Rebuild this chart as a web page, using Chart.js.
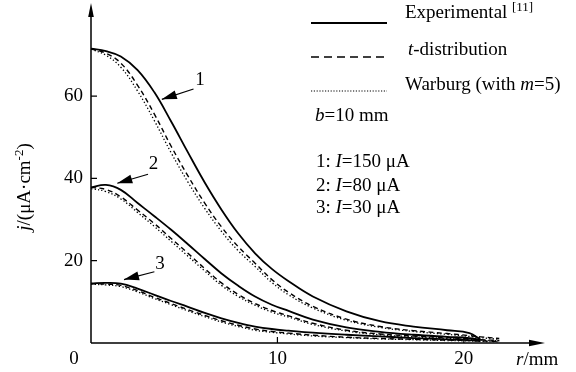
<!DOCTYPE html>
<html>
<head>
<meta charset="utf-8">
<script src="https://cdn.jsdelivr.net/npm/chart.js@4/dist/chart.umd.min.js"></script>
<style>
body{margin:0;background:#fff}
#wrap{width:576px;height:372px}
</style>
</head>
<body>
<div id="wrap"><canvas id="c"></canvas></div>
<script>
// r in mm, j in uA/cm2
const r=[0,0.8,1.6,2.5,3.4,4.3,5.2,6.1,7.0,7.9,8.8,9.7,10.6,11.9,13.7,15.5,17.3,19.1,20.3,20.9,21.9]

const j1Exp=[71.5,70.9,69.6,66.3,60.9,53.8,46.3,39.0,32.4,26.6,21.8,18.0,15.0,11.3,7.7,5.3,4.0,3.1,2.4,0.8,null]
const j1T=[71.5,70.4,68.0,62.6,55.6,47.8,40.6,34.0,28.2,23.4,19.4,15.4,12.3,8.9,5.8,4.0,3.0,2.3,1.8,1.5,1.1]
const j1W=[71.4,69.9,67.0,61.2,54.0,46.2,39.1,32.7,27.1,22.4,18.6,14.7,11.7,8.5,5.5,3.8,2.8,2.1,1.6,1.3,0.9]

const j2Exp=[37.8,38.4,37.2,34.0,30.8,27.5,24.0,20.4,16.9,13.9,11.3,9.3,7.8,5.7,3.8,2.7,2.0,1.5,1.2,0.8,null]
const j2T=[37.8,37.3,35.5,32.3,29.0,25.4,21.8,18.1,14.6,11.8,9.6,7.9,6.6,4.8,3.1,2.2,1.7,1.3,1.0,0.8,0.6]
const j2W=[37.5,36.8,35.0,31.7,28.3,24.7,21.1,17.5,14.0,11.3,9.2,7.5,6.3,4.5,2.9,2.0,1.5,1.1,0.9,0.7,0.5]

const j3Exp=[14.5,14.6,14.4,13.2,11.7,10.2,8.8,7.3,6.0,4.9,4.0,3.4,3.0,2.5,2.0,1.6,1.2,0.9,0.7,0.5,null]
const j3T=[14.4,14.3,14.0,12.7,11.1,9.6,8.1,6.7,5.4,4.3,3.4,2.8,2.4,1.9,1.4,1.1,0.9,0.7,0.6,0.5,0.4]
const j3W=[14.3,14.1,13.7,12.4,10.8,9.3,7.8,6.4,5.1,4.0,3.1,2.6,2.2,1.7,1.3,1.0,0.8,0.6,0.5,0.4,0.3]

const xTicks=[10,20]
const yTicks=[20,40,60]

// curve markers: number, arrow tip and tail in data units
const markers=[
{n:"1",tip:[3.8,59.2],tail:[5.5,61.7],lab:[5.85,63.8]},
{n:"2",tip:[1.41,38.8],tail:[3.06,41.0],lab:[3.35,43.6]},
{n:"3",tip:[1.77,15.4],tail:[3.4,17.3],lab:[3.7,19.2]}
]

const FONT="'Liberation Serif','Times New Roman',serif"

function pts(arr){
return r.map((x,i)=>({x:x,y:arr[i]})).filter(p=>p.y!==null)
}

function line(arr,kind){
let ds={data:pts(arr),borderColor:"#000",pointRadius:0,fill:false,tension:0.4,borderWidth:1.8}
if(kind=="dash"){ds.borderDash=[5,3.5];ds.borderWidth=1.4}
if(kind=="dot"){ds.borderDash=[1.3,2.2];ds.borderWidth=1.3}
return ds
}

// draw text made of [text,style] parts; style: "" | "i" | "sup"
function rich(ctx,parts,x,y,size,measureOnly){
let w=0
parts.forEach(p=>{
let s=p[1]=="sup"?Math.round(size*0.68):size
ctx.font=(p[1]=="i"?"italic ":"")+s+"px "+FONT
let dy=p[1]=="sup"?-size*0.38:0
if(!measureOnly) ctx.fillText(p[0],x+w,y+dy)
w+=ctx.measureText(p[0]).width
})
return w
}

function head(ctx,x0,y0,x1,y1,len,half){
let a=Math.atan2(y1-y0,x1-x0)
ctx.beginPath()
ctx.moveTo(x1,y1)
ctx.lineTo(x1-len*Math.cos(a)+half*Math.sin(a),y1-len*Math.sin(a)-half*Math.cos(a))
ctx.lineTo(x1-len*Math.cos(a)-half*Math.sin(a),y1-len*Math.sin(a)+half*Math.cos(a))
ctx.closePath()
ctx.fill()
}

const decor={
id:"decor",
afterDatasetsDraw(chart){
const ctx=chart.ctx
const xs=chart.scales.x, ys=chart.scales.y
const a=chart.chartArea
const x0=xs.getPixelForValue(0), y0=ys.getPixelForValue(0)
ctx.save()
ctx.fillStyle="#000"
ctx.strokeStyle="#000"
ctx.setLineDash([])

// axes with arrows
ctx.lineWidth=1.5
ctx.beginPath()
ctx.moveTo(x0,y0);ctx.lineTo(a.right-8,y0)
ctx.moveTo(x0,y0);ctx.lineTo(x0,a.top+8)
ctx.stroke()
head(ctx,x0,y0,a.right+1,y0,16,3.2)
head(ctx,x0,y0,x0,a.top,14,2.8)

// ticks, pointing inward
ctx.lineWidth=1.2
ctx.beginPath()
yTicks.forEach(v=>{let y=ys.getPixelForValue(v);ctx.moveTo(x0,y);ctx.lineTo(x0+6,y)})
xTicks.forEach(v=>{let x=xs.getPixelForValue(v);ctx.moveTo(x,y0);ctx.lineTo(x,y0-6)})
ctx.stroke()

ctx.font="19px "+FONT
ctx.textBaseline="middle"
ctx.textAlign="right"
yTicks.forEach(v=>ctx.fillText(String(v),83,ys.getPixelForValue(v)))
ctx.textAlign="center"
xTicks.forEach(v=>ctx.fillText(String(v),xs.getPixelForValue(v),359))
ctx.fillText("0",x0-17,359)
ctx.textAlign="left"
ctx.textBaseline="alphabetic"
rich(ctx,[["r","i"],["/mm",""]],516,365,19)

// y title
ctx.save()
ctx.translate(30,187)
ctx.rotate(-Math.PI/2)
let yt=[["j","i"],["/(μA·cm",""],["-2","sup"],[")",""]]
let w=rich(ctx,yt,0,0,19,true)
rich(ctx,yt,-w/2,0,19)
ctx.restore()

// curve number arrows
ctx.lineWidth=1.2
markers.forEach(m=>{
let tx=xs.getPixelForValue(m.tip[0]),ty=ys.getPixelForValue(m.tip[1])
let sx=xs.getPixelForValue(m.tail[0]),sy=ys.getPixelForValue(m.tail[1])
ctx.beginPath();ctx.moveTo(sx,sy);ctx.lineTo(tx,ty);ctx.stroke()
head(ctx,sx,sy,tx,ty,15,4.5)
ctx.font="19px "+FONT
ctx.textAlign="center";ctx.textBaseline="middle"
ctx.fillText(m.n,xs.getPixelForValue(m.lab[0]),ys.getPixelForValue(m.lab[1]))
})

// legend
ctx.textAlign="left";ctx.textBaseline="alphabetic"
ctx.lineWidth=2
ctx.beginPath();ctx.moveTo(311,23);ctx.lineTo(387,23);ctx.stroke()
ctx.lineWidth=1.6;ctx.setLineDash([8,5])
ctx.beginPath();ctx.moveTo(311,57);ctx.lineTo(388,57);ctx.stroke()
ctx.lineWidth=1.2;ctx.setLineDash([1.2,1.6])
ctx.beginPath();ctx.moveTo(311,91);ctx.lineTo(387,91);ctx.stroke()
ctx.setLineDash([])

rich(ctx,[["Experimental",""]],405,18,19)
ctx.font="13px "+FONT
ctx.fillText("[11]",512,11)
rich(ctx,[["t","i"],["-distribution",""]],408,55,19)
rich(ctx,[["Warburg (with ",""],["m","i"],["=5)",""]],405,90,19)
rich(ctx,[["b","i"],["=10 mm",""]],315,121,19)
rich(ctx,[["1: ",""],["I","i"],["=150 μA",""]],316,167,19)
rich(ctx,[["2: ",""],["I","i"],["=80 μA",""]],316,191,19)
rich(ctx,[["3: ",""],["I","i"],["=30 μA",""]],316,213,19)
ctx.restore()
}
}

new Chart(document.getElementById("c"),{
type:"line",
data:{datasets:[
line(j1Exp,"solid"),line(j1T,"dash"),line(j1W,"dot"),
line(j2Exp,"solid"),line(j2T,"dash"),line(j2W,"dot"),
line(j3Exp,"solid"),line(j3T,"dash"),line(j3W,"dot")
]},
options:{
responsive:true,
maintainAspectRatio:false,
animation:false,
layout:{padding:{left:91,top:3,right:32,bottom:29}},
plugins:{legend:{display:false},tooltip:{enabled:false}},
scales:{
x:{type:"linear",min:0,max:24.3,display:false},
y:{min:0,max:82.6,display:false}
}
},
plugins:[decor]
})
</script>
</body>
</html>
